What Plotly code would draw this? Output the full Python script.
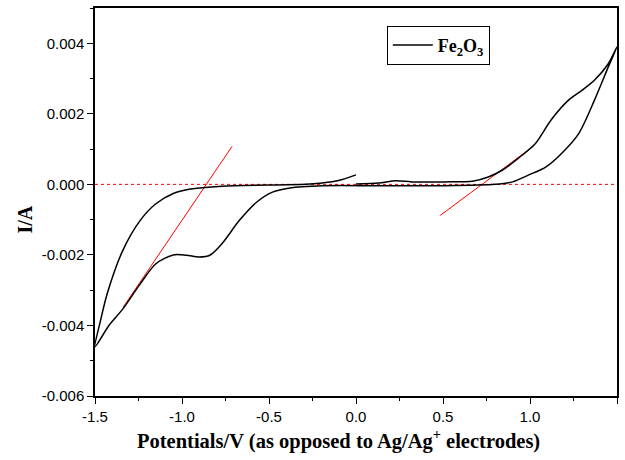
import plotly.graph_objects as go

# CV scan (in scan order): potential (V) and current (A)
potential = [0.0, 0.13, 0.23, 0.32, 0.51, 0.67, 0.76, 0.84, 0.93, 1.03, 1.12, 1.22, 1.30, 1.37, 1.45, 1.50,
             1.45, 1.37, 1.28, 1.18, 1.09, 0.99, 0.90, 0.80, 0.51, 0.13, -0.19, -0.38, -0.48, -0.57, -0.67,
             -0.77, -0.84, -0.90, -0.975, -1.05, -1.15, -1.24, -1.34, -1.42, -1.50,
             -1.47, -1.43, -1.34, -1.24, -1.15, -1.05, -0.96, -0.77, -0.29, -0.195, -0.10, 0.0]
current = [0.00001, 0.00004, 0.0001, 0.00007, 0.00007, 0.00009, 0.00021, 0.0004, 0.00073, 0.00115, 0.00182,
           0.00238, 0.00267, 0.00295, 0.00342, 0.0039,
           0.00333, 0.00238, 0.00144, 0.00087, 0.00049, 0.00026, 0.00007, 0.0, -0.00004, -0.00004, -0.00004,
           -0.0001, -0.00022, -0.0005, -0.00102, -0.00168, -0.00201, -0.00206, -0.00201, -0.0020, -0.00225,
           -0.00282, -0.00353, -0.0040, -0.0046,
           -0.0039, -0.0031, -0.00187, -0.00102, -0.00055, -0.00026, -0.00014, -0.00005, 0.0, 0.00004,
           0.00011, 0.00027]

# tangent lines used to determine onset potentials
tan_left_x = [-1.338, -0.712]
tan_left_y = [-0.00348, 0.00108]
tan_right_x = [0.484, 1.019]
tan_right_y = [-0.00088, 0.00108]
baseline_x = [-1.5, 1.5]
baseline_y = [0.0, 0.0]

x_ticks = [-1.5, -1.0, -0.5, 0.0, 0.5, 1.0, 1.5]
x_tick_labels = ["-1.5", "-1.0", "-0.5", "0.0", "0.5", "1.0", "1.5"]
y_ticks = [-0.006, -0.004, -0.002, 0.0, 0.002, 0.004]
y_tick_labels = ["-0.006", "-0.004", "-0.002", "0.000", "0.002", "0.004"]

x_title = "<b>Potentials/V (as opposed to Ag/Ag<sup>+</sup> electrodes)</b>"
y_title = "<b>I/A</b>"
series_name = "<b>Fe<sub>2</sub>O<sub>3</sub></b>"

serif = "Liberation Serif"
sans = "Liberation Sans"

fig = go.Figure()
fig.add_trace(go.Scatter(x=baseline_x, y=baseline_y, mode="lines",
                         line=dict(color="red", width=1, dash="dot"), showlegend=False))
fig.add_trace(go.Scatter(x=tan_left_x, y=tan_left_y, mode="lines",
                         line=dict(color="red", width=1), showlegend=False))
fig.add_trace(go.Scatter(x=tan_right_x, y=tan_right_y, mode="lines",
                         line=dict(color="red", width=1), showlegend=False))
fig.add_trace(go.Scatter(x=potential, y=current, mode="lines",
                         line=dict(color="black", width=1.5, shape="spline", smoothing=0.8),
                         name=series_name))

axis_common = dict(showline=True, linecolor="black", linewidth=1.5, mirror=True,
                   ticks="outside", ticklen=6, tickwidth=1, tickcolor="black",
                   showgrid=False, zeroline=False,
                   tickfont=dict(family=sans, size=15, color="black"))

fig.update_xaxes(range=[-1.5, 1.5], tickvals=x_ticks, ticktext=x_tick_labels,
                 minor=dict(dtick=0.25, ticks="outside", ticklen=3, tickcolor="black"),
                 **axis_common)
fig.update_yaxes(range=[-0.006, 0.005], tickvals=y_ticks, ticktext=y_tick_labels,
                 minor=dict(dtick=0.001, ticks="outside", ticklen=3, tickcolor="black"),
                 **axis_common)

fig.add_annotation(text=x_title, xref="paper", yref="paper", x=0.466, y=-0.113,
                   xanchor="center", yanchor="middle", showarrow=False,
                   font=dict(family=serif, size=20.5, color="black"))
fig.add_annotation(text=y_title, xref="paper", yref="paper", x=-0.135, y=0.4536,
                   xanchor="center", yanchor="middle", showarrow=False, textangle=-90,
                   font=dict(family=serif, size=20, color="black"))

fig.update_layout(
    width=625, height=460,
    margin=dict(l=95, r=6, t=8, b=64),
    plot_bgcolor="white", paper_bgcolor="white",
    legend=dict(x=0.559, y=0.954, xanchor="left", yanchor="top", itemwidth=40,
                bordercolor="black", borderwidth=1, bgcolor="white",
                font=dict(family=serif, size=18, color="black", weight="bold")),
)

fig.write_html("out.html")
